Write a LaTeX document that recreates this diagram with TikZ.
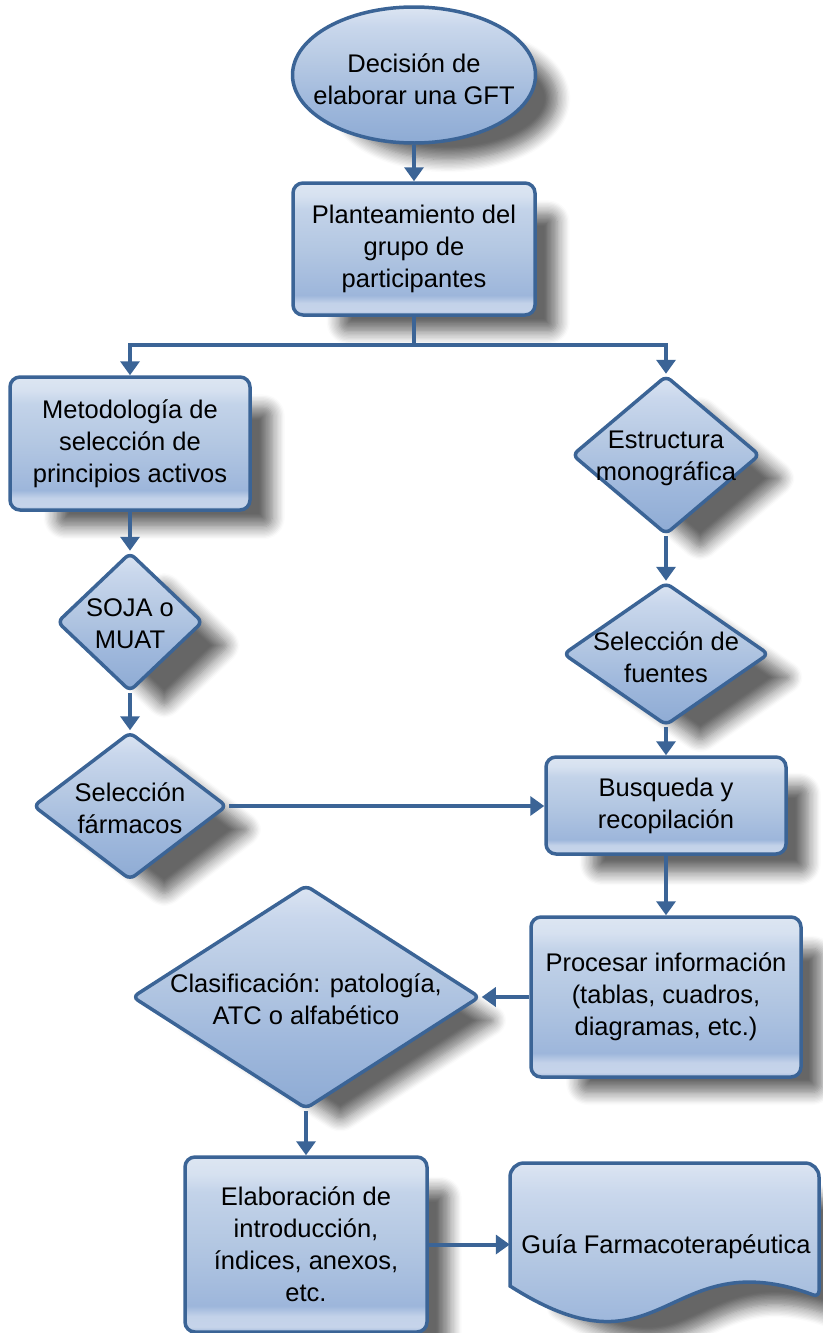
\documentclass[tikz,border=0pt]{standalone}
\usepackage{fontspec}
\setmainfont{Liberation Sans}
\usetikzlibrary{shapes.geometric, arrows.meta, shadows.blur}

\definecolor{edge}{HTML}{3B6496}
\definecolor{bxa}{HTML}{9AB3D9}
\definecolor{bxb}{HTML}{A6BDDE}
\definecolor{bxc}{HTML}{C6D4EA}
\definecolor{bxd}{HTML}{C3D2E9}
\definecolor{bxe}{HTML}{9DB6DB}
\definecolor{bxf}{HTML}{B3C7E2}
\definecolor{bxg}{HTML}{C3D3E9}
\definecolor{bxh}{HTML}{D6E1F0}
\definecolor{bxi}{HTML}{DDE6F2}
\definecolor{sfa}{HTML}{8EABD4}
\definecolor{sfb}{HTML}{9FB8DC}
\definecolor{sfc}{HTML}{B6C9E3}
\definecolor{sfd}{HTML}{C9D7EC}
\definecolor{sfe}{HTML}{DCE5F2}

% glossy fill for the boxes: pale top, deeper blue low down, light rim at the bottom
\pgfdeclareverticalshading{boxfill}{100bp}{%
  color(0bp)=(bxa); color(25bp)=(bxb); color(26.5bp)=(bxc);
  color(29.5bp)=(bxd); color(32.5bp)=(bxe); color(50bp)=(bxf);
  color(65bp)=(bxg); color(70bp)=(bxh); color(75bp)=(bxi);
  color(100bp)=(bxi)}
% fill for diamonds, the ellipse and the document
\pgfdeclareverticalshading{softfill}{100bp}{%
  color(0bp)=(sfa); color(25bp)=(sfa); color(40bp)=(sfb);
  color(55bp)=(sfc); color(68bp)=(sfd); color(75bp)=(sfe);
  color(100bp)=(sfe)}

\tikzset{
  txt/.style={font=\fontsize{25.5}{32}\selectfont, align=center, inner sep=0pt, text=black},
  softshadow/.style={blur shadow={shadow xshift=38pt, shadow yshift=-26pt, shadow scale=0.9,
      shadow blur radius=14pt, shadow blur steps=10, shadow opacity=60}},
  shapebase/.style={draw=edge, line width=3.5pt, softshadow},
  box/.style={shapebase, shading=boxfill, rectangle, rounded corners=10pt, inner sep=0pt, txt},
  dia/.style={shapebase, shading=softfill, diamond, rounded corners=6pt, inner sep=0pt},
  bubble/.style={shapebase, shading=softfill, ellipse, inner sep=0pt},
  docshape/.style={shapebase, shading=softfill},
  link/.style={draw=edge, line width=4pt},
  conn/.style={link, -{Triangle[width=19pt,length=14pt]}},
}

\begin{document}
\begin{tikzpicture}[x=1pt, y=-1pt]
\useasboundingbox (0,0) rectangle (822,1333);

% start
\node[bubble, minimum width=243pt, minimum height=136pt] (e1) at (414,75) {};
\node[txt] (e1t) at (414,79) {Decisión de\\elaborar una GFT};

% team
\node[box, minimum width=242pt, minimum height=132pt] (r2) at (414,249)
  {Planteamiento del\\grupo de\\participantes};

% left branch
\node[box, minimum width=240pt, minimum height=133pt] (r3) at (130,443.5)
  {Metodología de\\selección de\\principios activos};
\node[dia, minimum width=146pt, minimum height=139pt] (d5) at (130,622) {};
\node[txt] (d5t) at (130,624) {SOJA o\\MUAT};
\node[dia, minimum width=194pt, minimum height=148pt] (d7) at (130,806) {};
\node[txt] (d7t) at (130,808) {Selección\\fármacos};

% right branch
\node[dia, minimum width=188pt, minimum height=159pt] (d4) at (666,455) {};
\node[txt] (d4t) at (666,458) {Estructura\\monográfica};
\node[dia, minimum width=206pt, minimum height=143pt] (d6) at (666,654) {};
\node[txt] (d6t) at (666,657) {Selección de\\fuentes};
\node[box, minimum width=240pt, minimum height=97pt] (r8) at (666,805.5)
  {Busqueda y\\recopilación};
\node[box, minimum width=270pt, minimum height=160pt] (r9) at (666,997)
  {Procesar información\\(tablas, cuadros,\\diagramas, etc.)};

% classification and output
\node[dia, minimum width=348pt, minimum height=224pt] (d10) at (306,997) {};
\node[txt] (d10t) at (306,999) {Clasificación: patología,\\ATC o alfabético};
\node[box, minimum width=242pt, minimum height=175pt] (r11) at (306,1244.5)
  {Elaboración de\\introducción,\\índices, anexos,\\etc.};

% final document (wavy bottom)
\node[inner sep=0pt, minimum width=309pt, minimum height=150pt] (doc) at (664.5,1237) {};
\path[docshape] (510,1286) [rounded corners=14pt] -- (510,1163) -- (819,1163)
  [rounded corners=6pt] -- (819,1297) [sharp corners]
  .. controls (665,1240) and (665,1385) .. (510,1286) -- cycle;
\node[txt] (doct) at (666,1247) {Guía Farmacoterapéutica};

% connectors
\coordinate (split) at (414,345);
\draw[conn] (e1.south) -- (r2.north);
\draw[link] (r2.south) -- (split);
\draw[conn] (split) -| (r3.north);
\draw[conn] (split) -| (d4.north);
\draw[conn] (r3.south) -- (d5.north);
\draw[conn] (d5.south) -- (d7.north);
\draw[conn] (d7.east) -- (d7.east -| r8.west);
\draw[conn] (d4.south) -- (d6.north);
\draw[conn] (d6.south) -- (r8.north);
\draw[conn] (r8.south) -- (r9.north);
\draw[conn] (r9.west) -- (d10.east);
\draw[conn] (d10.south) -- (r11.north);
\draw[conn] (r11.east) -- (r11.east -| doc.west);
\end{tikzpicture}
\end{document}
